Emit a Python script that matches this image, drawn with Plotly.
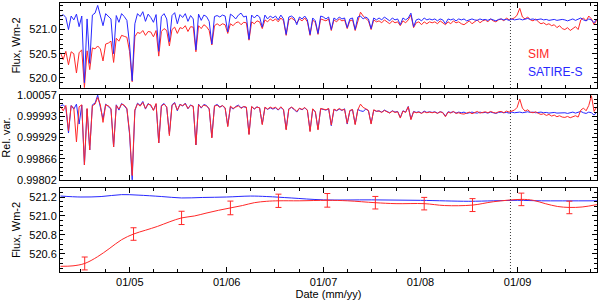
import plotly.graph_objects as go
import pandas as pd

# ---------------- data ----------------
series_start = "2004-04-15"
series_step_days = 10

sat_flux = [
    521.27, 521.31, 521.25, 521.00, 521.28, 521.20, 521.32, 521.06, 521.28, 519.90,
    521.22, 520.30, 521.30, 521.34, 521.50, 521.27, 521.08, 521.33, 521.27, 521.22,
    520.50, 521.29, 521.15, 521.33, 521.27, 521.19, 520.70, 519.94, 521.12, 521.33,
    521.27, 521.37, 521.17, 521.32, 521.25, 521.15, 521.31, 520.55, 521.27, 521.33,
    521.22, 520.75, 521.29, 521.35, 521.12, 521.31, 521.25, 521.33, 521.17, 521.29,
    521.22, 520.58, 521.32, 521.19, 521.30, 521.27, 521.17, 520.70, 521.27, 521.29,
    521.26, 521.30, 521.28, 520.95, 521.32, 521.28, 521.22, 521.30, 521.34, 521.26,
    521.28, 520.80, 521.30, 521.24, 521.30, 521.26, 521.05, 521.30, 521.22, 521.28,
    521.24, 521.28, 521.20, 521.30, 521.22, 520.90, 521.26, 521.28, 521.24, 521.10,
    521.26, 521.22, 521.28, 521.20, 520.90, 521.24, 521.18, 520.92, 521.28, 521.26,
    521.22, 521.26, 521.00, 521.24, 521.20, 521.26, 521.22, 521.24, 521.04, 521.22,
    521.24, 521.00, 521.26, 521.28, 521.22, 521.26, 521.22, 521.02, 521.24, 521.20,
    521.24, 521.20, 521.26, 521.22, 521.18, 521.24, 521.20, 521.22, 521.10, 521.24,
    521.20, 521.24, 521.34, 521.06, 521.20, 521.22, 521.18, 521.24, 521.20, 521.22,
    521.20, 521.22, 521.18, 521.22, 521.20, 521.12, 521.22, 521.20, 521.22, 521.18,
    521.22, 521.20, 521.22, 521.18, 521.20, 521.22, 521.20, 521.19, 521.22, 521.20,
    521.21, 521.19, 521.22, 521.20, 521.18, 521.21, 521.22, 521.20, 521.21, 521.19,
    521.22, 521.20, 521.21, 521.22, 521.20, 521.22, 521.23, 521.21, 521.22, 521.20,
    521.21, 521.22, 521.20, 521.21, 521.19, 521.20, 521.21, 521.19, 521.20, 521.21,
    521.20, 521.18, 521.20, 521.22, 521.19, 521.21, 521.24, 521.20, 521.18, 521.22,
    521.20, 521.14, 521.22,
]

sim_flux = [
    520.52, 520.38, 520.55, 520.27, 520.54, 520.50, 520.10, 520.52, 520.58, 519.80,
    520.56, 520.17, 520.62, 520.60, 520.66, 520.60, 520.35, 520.70, 520.72, 520.76,
    520.32, 520.82, 520.76, 520.88, 520.86, 520.84, 520.55, 519.92, 520.85, 520.94,
    520.92, 520.98, 520.88, 520.96, 520.95, 520.85, 520.98, 520.45, 520.96, 521.02,
    520.98, 520.66, 521.00, 521.05, 520.92, 521.04, 521.02, 521.08, 520.96, 521.06,
    521.05, 520.54, 521.08, 521.02, 521.10, 521.06, 520.98, 520.68, 521.08, 521.12,
    521.08, 521.12, 521.10, 520.92, 521.12, 521.08, 521.14, 521.16, 521.10, 521.15,
    521.14, 520.78, 521.16, 521.12, 521.18, 521.16, 521.02, 521.20, 521.16, 521.22,
    521.18, 521.22, 521.16, 521.24, 521.18, 520.88, 521.20, 521.24, 521.20, 521.14,
    521.22, 521.18, 521.24, 521.16, 520.88, 521.20, 521.14, 520.90, 521.22, 521.20,
    521.18, 521.22, 520.98, 521.20, 521.16, 521.22, 521.18, 521.20, 521.02, 521.18,
    521.20, 520.98, 521.18, 521.36, 521.28, 521.22, 521.18, 521.00, 521.20, 521.16,
    521.18, 521.14, 521.20, 521.16, 521.12, 521.18, 521.14, 521.16, 521.08, 521.18,
    521.14, 521.20, 521.30, 521.04, 521.14, 521.16, 521.10, 521.16, 521.12, 521.16,
    521.14, 521.16, 521.12, 521.18, 521.14, 521.10, 521.16, 521.12, 521.18, 521.14,
    521.16, 521.12, 521.10, 521.14, 521.18, 521.12, 521.16, 521.20, 521.14, 521.18,
    521.20, 521.16, 521.22, 521.18, 521.16, 521.20, 521.22, 521.18, 521.24, 521.20,
    521.22, 521.24, 521.30, 521.44, 521.26, 521.22, 521.26, 521.20, 521.18, 521.22,
    521.16, 521.12, 521.14, 521.10, 521.12, 521.08, 521.10, 521.04, 521.08, 521.02,
    521.00, 521.04, 520.98, 521.02, 521.06, 521.00, 521.20, 521.24, 521.18, 521.28,
    521.22, 521.10, 521.20,
]

# relative variations, in parts per million around 1
sat_rel_ppm = [
    250, 280, 200, -570, 260, 150, 300, -300, 270, -1530,
    150, -1080, 280, 330, 570, 250, -150, 300, 230, 150,
    -990, 280, 120, 320, 250, 150, -600, -1980, 100, 330,
    260, 380, 150, 320, 250, 120, 300, -870, 260, 320,
    200, -600, 280, 350, 100, 300, 240, 330, 160, 280,
    220, -930, 300, 180, 290, 260, 150, -700, 250, 290,
    220, 250, 180, -350, 220, 150, 230, 270, 190, 220,
    200, -600, 220, 150, 220, 180, -300, 200, 140, 190,
    150, 190, 120, 200, 130, -450, 160, 200, 140, 60,
    170, 130, 190, 110, -500, 150, 60, -450, 160, 130,
    120, 160, -350, 140, 100, 150, 110, 160, -300, 100,
    130, -300, 140, 100, 80, 150, 100, -280, 120, 80,
    100, 60, 120, 80, 40, 100, 60, 80, -100, 100,
    60, 230, -150, 80, 50, 70, 30, 90, 50, 70,
    50, 70, 30, 70, 50, -60, 70, 50, 70, 30,
    60, 40, 60, 20, 40, 60, 40, 30, 60, 40,
    50, 30, 60, 40, 20, 50, 60, 40, 50, 30,
    60, 40, 50, 60, 40, 60, 70, 50, 60, 40,
    50, 60, 40, 50, 30, 40, 50, 30, 40, 50,
    40, 20, 40, 60, 30, 50, 80, 40, 20, 60,
    40, -30, 60,
]

sim_rel_ppm = [
    230, 100, 260, -500, 250, 180, -840, 220, 280, -1530,
    170, -1080, 250, 300, 500, 280, -250, 280, 250, 170,
    -990, 260, 150, 300, 270, 170, -550, -1850, 130, 310,
    240, 350, 170, 300, 280, 110, 320, -870, 240, 300,
    220, -650, 260, 330, 120, 280, 260, 310, 170, 260,
    240, -930, 280, 200, 270, 240, 170, -720, 240, 270,
    200, 260, 190, -380, 240, 170, 210, 250, 170, 230,
    210, -620, 230, 160, 210, 190, -320, 210, 150, 210,
    170, 210, 130, 220, 140, -480, 150, 210, 160, 80,
    180, 140, 200, 120, -530, 160, 70, -480, 170, 140,
    130, 170, -330, 150, 110, 170, 120, 140, -280, 110,
    140, -320, 130, 300, 200, 160, 110, -300, 130, 90,
    90, 50, 110, 70, 30, 90, 50, 70, -120, 90,
    50, 220, -170, 70, 40, 60, 20, 70, 40, 60,
    40, 60, 20, 70, 40, -80, 60, 30, 80, 20,
    40, 10, 0, 30, 60, 10, 40, 80, 30, 60,
    70, 40, 80, 50, 30, 70, 80, 40, 90, 60,
    80, 120, 200, 450, 180, 90, 130, 60, 40, 70,
    20, -10, 10, -40, -10, -60, -30, -80, -50, -90,
    -100, -70, -110, -80, -50, -90, 120, 180, 100, 260,
    550, 80, 220,
]

# smoothed fluxes (bottom panel)
sim_smooth_dates = [
    "2004-04-15", "2004-06-01", "2004-07-15", "2004-09-01", "2004-10-15", "2004-12-01",
    "2005-01-15", "2005-03-01", "2005-04-15", "2005-06-01", "2005-07-15", "2005-09-01",
    "2005-10-15", "2005-12-01", "2006-01-15", "2006-03-01", "2006-04-15", "2006-06-01",
    "2006-07-15", "2006-10-01", "2007-01-15", "2007-04-01", "2007-07-15", "2007-10-01",
    "2008-01-15", "2008-04-01", "2008-07-15", "2008-10-01", "2009-01-15", "2009-03-01",
    "2009-04-15", "2009-06-01", "2009-07-15", "2009-09-01", "2009-10-27",
]
sim_smooth = [
    520.47, 520.475, 520.50, 520.57, 520.655, 520.75,
    520.81, 520.85, 520.89, 520.94, 520.98, 521.00,
    521.03, 521.06, 521.085, 521.11, 521.14, 521.155,
    521.16, 521.16, 521.165, 521.16, 521.14, 521.13,
    521.13, 521.11, 521.115, 521.15, 521.175, 521.165,
    521.13, 521.10, 521.09, 521.095, 521.12,
]

sat_smooth_dates = [
    "2004-04-15", "2004-07-01", "2004-09-15", "2004-12-01", "2005-02-01", "2005-05-01",
    "2005-07-15", "2005-10-01", "2006-01-01", "2006-04-01", "2006-06-01", "2006-09-01",
    "2007-01-01", "2007-07-01", "2008-01-01", "2008-07-01", "2008-10-01", "2009-01-01",
    "2009-04-01", "2009-10-27",
]
sat_smooth = [
    521.21, 521.20, 521.205, 521.225, 521.22, 521.205,
    521.19, 521.195, 521.20, 521.21, 521.205, 521.19,
    521.17, 521.17, 521.165, 521.155, 521.16, 521.165,
    521.16, 521.16,
]

err_dates = [
    "2004-07-15", "2005-01-15", "2005-07-15", "2006-01-15", "2006-07-15", "2007-01-15",
    "2007-07-15", "2008-01-15", "2008-07-15", "2009-01-15", "2009-07-15",
]
err_values = [520.50, 520.81, 520.98, 521.085, 521.16, 521.165,
              521.14, 521.13, 521.115, 521.175, 521.09]
err_sizes = [0.068, 0.066, 0.070, 0.072, 0.070, 0.072,
             0.066, 0.066, 0.068, 0.066, 0.066]

tick_dates = ["2005-01-01", "2006-01-01", "2007-01-01", "2008-01-01", "2009-01-01"]
tick_labels = ["01/05", "01/06", "01/07", "01/08", "01/09"]
rel_tickvals = [0.99802, 0.998658, 0.999295, 0.999933, 1.00057]
rel_ticklabels = ["0.99802", "0.99866", "0.99929", "0.99993", "1.00057"]
marker_date = "2008-12-05"

# ---------------- figure ----------------
RED = "rgb(255,40,40)"
BLUE = "rgb(40,40,255)"
FONT = "Liberation Sans, Arial, sans-serif"

dates = pd.date_range(series_start, periods=len(sat_flux), freq=f"{series_step_days}D")
sat_rel = [1 + v * 1e-6 for v in sat_rel_ppm]
sim_rel = [1 + v * 1e-6 for v in sim_rel_ppm]

fig = go.Figure()
fig.add_trace(go.Scatter(x=dates, y=sim_flux, mode="lines", line=dict(color=RED, width=1),
                         xaxis="x", yaxis="y", showlegend=False))
fig.add_trace(go.Scatter(x=dates, y=sat_flux, mode="lines", line=dict(color=BLUE, width=1),
                         xaxis="x", yaxis="y", showlegend=False))
fig.add_trace(go.Scatter(x=dates, y=sat_rel, mode="lines", line=dict(color=BLUE, width=1),
                         xaxis="x2", yaxis="y2", showlegend=False))
fig.add_trace(go.Scatter(x=dates, y=sim_rel, mode="lines", line=dict(color=RED, width=1),
                         xaxis="x2", yaxis="y2", showlegend=False))
fig.add_trace(go.Scatter(x=sat_smooth_dates, y=sat_smooth, mode="lines",
                         line=dict(color=BLUE, width=1, shape="spline", smoothing=1),
                         xaxis="x3", yaxis="y3", showlegend=False))
fig.add_trace(go.Scatter(x=sim_smooth_dates, y=sim_smooth, mode="lines",
                         line=dict(color=RED, width=1, shape="spline", smoothing=1),
                         xaxis="x3", yaxis="y3", showlegend=False))
fig.add_trace(go.Scatter(x=err_dates, y=err_values, mode="markers",
                         marker=dict(size=1, color=RED),
                         error_y=dict(type="data", array=err_sizes, color=RED, thickness=1, width=3),
                         xaxis="x3", yaxis="y3", showlegend=False))

xrange = ["2004-04-13", "2009-10-27"]
axis_common = dict(showline=True, linecolor="black", linewidth=1, mirror="allticks",
                   ticks="inside", ticklen=5, tickcolor="black", tickwidth=1,
                   showgrid=False, zeroline=False, automargin=False,
                   tickfont=dict(family=FONT, size=11, color="black"))


def xaxis(anchor, labels):
    d = dict(axis_common)
    d.update(type="date", range=xrange, anchor=anchor, domain=[0, 1],
             tickvals=tick_dates, ticktext=tick_labels, showticklabels=labels,
             minor=dict(dtick="M3", tick0="2005-01-01", ticks="inside", ticklen=3,
                        tickcolor="black", showgrid=False))
    return d


def yaxis(anchor, domain, rng, title, **kw):
    d = dict(axis_common)
    d.update(anchor=anchor, domain=domain, range=rng,
             title=dict(text=title, standoff=6, font=dict(family=FONT, size=11, color="black")))
    d.update(kw)
    return d


fig.update_layout(
    width=600, height=302,
    margin=dict(l=60, r=3, t=3, b=30),
    paper_bgcolor="white", plot_bgcolor="white",
    font=dict(family=FONT, size=11, color="black"),
    xaxis=xaxis("y", False),
    xaxis2=xaxis("y2", False),
    xaxis3=xaxis("y3", True),
    yaxis=yaxis("x", [0.684, 1.0], [519.79, 521.55], "Flux, Wm-2",
                tickvals=[520.0, 520.5, 521.0], tickformat=".1f",
                minor=dict(dtick=0.1, tick0=520.0, ticks="inside", ticklen=3, tickcolor="black")),
    yaxis2=yaxis("x2", [0.342, 0.658], [0.998015, 1.000575], "Rel. var.",
                 tickvals=rel_tickvals, ticktext=rel_ticklabels,
                 minor=dict(dtick=0.0001275, tick0=0.99802, ticks="inside", ticklen=3, tickcolor="black")),
    yaxis3=yaxis("x3", [0.0, 0.3123], [520.41, 521.295], "Flux, Wm-2",
                 tickvals=[520.6, 520.8, 521.0, 521.2], tickformat=".1f",
                 minor=dict(dtick=0.05, tick0=520.6, ticks="inside", ticklen=3, tickcolor="black")),
)
fig.layout.xaxis3.title = dict(text="Date (mm/yy)", standoff=2, font=dict(family=FONT, size=11, color="black"))

for xr, yr in [("x", "y domain"), ("x2", "y2 domain"), ("x3", "y3 domain")]:
    fig.add_shape(type="line", xref=xr, x0=marker_date, x1=marker_date, yref=yr, y0=0, y1=1,
                  line=dict(color="rgb(60,60,60)", width=1, dash="1px,2px"))

fig.add_annotation(x=0.867, y=520.50, xref="paper", yref="y", text="SIM", showarrow=False,
                   xanchor="left", font=dict(family=FONT, size=12, color=RED))
fig.add_annotation(x=0.867, y=520.13, xref="paper", yref="y", text="SATIRE-S", showarrow=False,
                   xanchor="left", font=dict(family=FONT, size=12, color=BLUE))

fig.write_html("out.html", post_script="document.body.style.margin='0';",
               config={"displayModeBar": False})
